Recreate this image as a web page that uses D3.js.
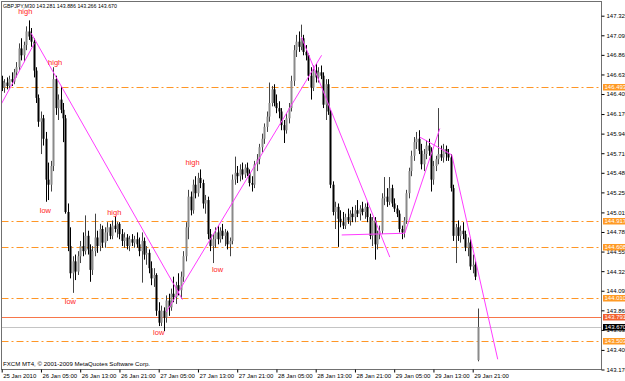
<!DOCTYPE html>
<html>
<head>
<meta charset="utf-8">
<script src="https://cdn.jsdelivr.net/npm/d3@7"></script>
<style>
  html, body { margin: 0; padding: 0; background: #fff; }
  svg { display: block; }
</style>
</head>
<body>
<svg></svg>
<script>
// GBPJPY M30 bars, 25 Jan 21:00 -> 29 Jan 22:00 (index 0..194)
const open = [
  146.56, 146.48, 146.54, 146.50, 146.58, 146.55, 146.66, 146.72, 146.94, 146.86,
  146.98, 147.14, 147.08, 147.02, 146.68, 146.36, 146.08, 146.12, 145.88, 145.40,
  145.34, 145.56, 146.58, 146.24, 146.34, 146.22, 146.12, 145.02, 144.62, 144.30,
  144.44, 144.32, 144.50, 144.62, 144.56, 144.74, 144.58, 144.34, 144.56, 144.72,
  144.62, 144.82, 144.66, 144.78, 144.84, 144.74, 144.86, 144.82, 144.88, 144.76,
  144.68, 144.72, 144.62, 144.70, 144.66, 144.70, 144.64, 144.56, 144.68, 144.52,
  144.54, 144.36, 144.24, 144.28, 143.86, 143.72, 143.86, 143.78, 143.98, 143.90,
  144.06, 144.02, 144.16, 144.10, 144.26, 144.50, 144.84, 145.20, 145.04, 145.34,
  145.24, 145.42, 145.36, 145.12, 145.16, 144.76, 144.62, 144.70, 144.78, 144.70,
  144.80, 144.74, 144.78, 144.64, 144.68, 145.40, 145.48, 145.44, 145.52, 145.46,
  145.54, 145.48, 145.36, 145.34, 145.58, 145.64, 145.78, 145.88, 146.02, 146.14,
  146.30, 146.46, 146.30, 146.24, 146.20, 146.04, 145.98, 146.12, 146.24, 146.56,
  146.92, 147.02, 146.96, 147.06, 146.90, 146.86, 146.62, 146.48, 146.68, 146.60,
  146.66, 146.62, 146.28, 146.52, 146.20, 145.34, 145.02, 145.08, 144.94, 144.90,
  144.86, 144.96, 144.92, 145.00, 144.96, 145.04, 145.00, 145.06, 145.02, 145.08,
  144.96, 144.74, 144.92, 144.64, 144.76, 144.80, 145.18, 145.20, 145.14, 145.30,
  145.12, 145.06, 145.00, 144.82, 144.78, 144.92, 145.24, 145.50, 145.68, 145.84,
  145.88, 145.74, 145.58, 145.70, 145.80, 145.74, 145.40, 145.56, 145.64, 145.70,
  145.66, 145.76, 145.70, 145.66, 145.30, 144.74, 144.84, 144.74, 144.80, 144.76,
  144.60, 144.66, 144.38, 144.40, 143.281
];
const high = [
  146.62, 146.58, 146.60, 146.62, 146.66, 146.70, 146.78, 147.00, 147.06, 147.02,
  147.20, 147.27, 147.18, 147.06, 146.72, 146.40, 146.20, 146.16, 145.96, 145.60,
  145.62, 146.72, 146.62, 146.40, 146.50, 146.30, 146.16, 145.12, 144.84, 144.50,
  144.52, 144.56, 144.68, 144.78, 144.98, 144.80, 144.64, 144.62, 145.00, 144.80,
  144.88, 144.86, 144.84, 144.90, 144.88, 144.92, 144.97, 144.90, 144.90, 144.82,
  144.78, 144.76, 144.74, 144.76, 144.74, 144.78, 144.72, 144.78, 144.72, 144.62,
  144.58, 144.44, 144.36, 144.30, 143.96, 143.92, 143.90, 144.04, 144.06, 144.12,
  144.26, 144.20, 144.30, 144.32, 144.56, 144.90, 145.28, 145.26, 145.40, 145.44,
  145.48, 145.52, 145.40, 145.22, 145.20, 144.82, 144.76, 144.84, 144.86, 144.84,
  144.88, 144.82, 144.80, 144.72, 145.46, 145.67, 145.56, 145.58, 145.60, 145.58,
  145.60, 145.52, 145.44, 145.62, 145.70, 145.82, 145.94, 146.06, 146.20, 146.54,
  146.50, 146.52, 146.40, 146.32, 146.24, 146.10, 146.18, 146.30, 146.62, 146.98,
  147.10, 147.14, 147.22, 147.10, 146.98, 146.88, 146.72, 146.74, 146.76, 146.72,
  146.74, 146.66, 146.58, 146.58, 146.22, 145.38, 145.14, 145.12, 145.04, 145.02,
  145.00, 145.06, 145.04, 145.08, 145.10, 145.16, 145.10, 145.14, 145.12, 145.14,
  145.00, 144.96, 144.96, 144.80, 144.86, 145.24, 145.43, 145.30, 145.43, 145.34,
  145.18, 145.10, 145.04, 144.86, 144.96, 145.28, 145.54, 145.74, 145.90, 145.96,
  145.98, 145.82, 145.76, 145.86, 145.88, 145.78, 145.62, 145.68, 146.24, 145.80,
  145.82, 145.80, 145.76, 145.70, 145.34, 144.88, 144.92, 144.86, 144.90, 144.80,
  144.72, 144.70, 144.52, 144.44, 143.886
];
const low = [
  146.44, 146.42, 146.46, 146.47, 146.50, 146.52, 146.60, 146.68, 146.80, 146.78,
  146.92, 147.04, 146.96, 146.60, 146.30, 146.02, 145.70, 145.80, 145.14, 145.16,
  145.26, 145.50, 146.16, 146.10, 146.18, 145.84, 145.00, 144.56, 144.24, 144.07,
  144.22, 144.28, 144.42, 144.50, 144.52, 144.52, 144.20, 144.28, 144.50, 144.54,
  144.56, 144.60, 144.60, 144.68, 144.70, 144.70, 144.78, 144.72, 144.70, 144.62,
  144.60, 144.58, 144.56, 144.62, 144.60, 144.60, 144.50, 144.19, 144.46, 144.40,
  144.30, 144.16, 144.14, 143.80, 143.68, 143.68, 143.62, 143.72, 143.80, 143.86,
  143.96, 143.94, 144.04, 144.00, 144.20, 144.44, 144.70, 144.98, 145.00, 145.18,
  145.20, 145.30, 145.06, 145.00, 144.70, 144.56, 144.42, 144.60, 144.64, 144.66,
  144.70, 144.62, 144.58, 144.50, 144.64, 145.34, 145.36, 145.38, 145.40, 145.42,
  145.44, 145.32, 145.26, 145.30, 145.50, 145.58, 145.72, 145.82, 145.96, 146.08,
  146.26, 146.26, 146.18, 146.12, 145.98, 145.83, 145.94, 146.06, 146.20, 146.50,
  146.84, 146.90, 146.92, 146.86, 146.80, 146.56, 146.34, 146.44, 146.54, 146.54,
  146.58, 146.24, 146.10, 146.16, 145.30, 144.98, 144.82, 144.61, 144.84, 144.82,
  144.82, 144.88, 144.86, 144.90, 144.90, 144.96, 144.92, 144.98, 144.94, 144.90,
  144.70, 144.62, 144.46, 144.58, 144.70, 144.76, 145.10, 145.08, 145.10, 145.08,
  145.02, 144.96, 144.78, 144.70, 144.72, 144.88, 145.18, 145.44, 145.62, 145.76,
  145.70, 145.52, 145.50, 145.64, 145.68, 145.26, 145.34, 145.50, 145.58, 145.62,
  145.60, 145.62, 145.62, 145.26, 144.68, 144.42, 144.68, 144.66, 144.70, 144.56,
  144.50, 144.34, 144.30, 144.22, 143.266
];
const close = [
  146.48, 146.54, 146.50, 146.58, 146.55, 146.66, 146.72, 146.94, 146.86, 146.98,
  147.14, 147.08, 147.02, 146.68, 146.36, 146.08, 146.12, 145.88, 145.40, 145.34,
  145.56, 146.58, 146.24, 146.34, 146.22, 146.12, 145.02, 144.62, 144.30, 144.44,
  144.32, 144.50, 144.62, 144.56, 144.74, 144.58, 144.34, 144.56, 144.72, 144.62,
  144.82, 144.66, 144.78, 144.84, 144.74, 144.86, 144.82, 144.88, 144.76, 144.68,
  144.72, 144.62, 144.70, 144.66, 144.70, 144.64, 144.56, 144.68, 144.52, 144.54,
  144.36, 144.24, 144.28, 143.86, 143.72, 143.86, 143.78, 143.98, 143.90, 144.06,
  144.02, 144.16, 144.10, 144.26, 144.50, 144.84, 145.20, 145.04, 145.34, 145.24,
  145.42, 145.36, 145.12, 145.16, 144.76, 144.62, 144.70, 144.78, 144.70, 144.80,
  144.74, 144.78, 144.64, 144.68, 145.40, 145.48, 145.44, 145.52, 145.46, 145.54,
  145.48, 145.36, 145.34, 145.58, 145.64, 145.78, 145.88, 146.02, 146.14, 146.30,
  146.46, 146.30, 146.24, 146.20, 146.04, 145.98, 146.12, 146.24, 146.56, 146.92,
  147.02, 146.96, 147.06, 146.90, 146.86, 146.62, 146.48, 146.68, 146.60, 146.66,
  146.62, 146.28, 146.52, 146.20, 145.34, 145.02, 145.08, 144.94, 144.90, 144.86,
  144.96, 144.92, 145.00, 144.96, 145.04, 145.00, 145.06, 145.02, 145.08, 144.96,
  144.74, 144.92, 144.64, 144.76, 144.80, 145.18, 145.20, 145.14, 145.30, 145.12,
  145.06, 145.00, 144.82, 144.78, 144.92, 145.24, 145.50, 145.68, 145.84, 145.88,
  145.74, 145.58, 145.70, 145.80, 145.74, 145.40, 145.56, 145.64, 145.70, 145.66,
  145.76, 145.70, 145.66, 145.30, 144.74, 144.84, 144.74, 144.80, 144.76, 144.60,
  144.66, 144.38, 144.40, 144.26, 143.670
];

// price scale labels
const priceTicks = [
  147.325, 147.095, 146.865, 146.635, 146.405, 146.170, 145.940, 145.710, 145.480,
  145.250, 145.015, 144.785, 144.555, 144.325, 144.095, 143.865, 143.635, 143.400, 143.170
];
// time scale labels, one every 16 bars
const timeTickBars = [0, 16, 32, 48, 64, 80, 96, 112, 128, 144, 160, 176, 192];
const timeLabels = [
  '25 Jan 2010', '26 Jan 05:00', '26 Jan 13:00', '26 Jan 21:00', '27 Jan 05:00',
  '27 Jan 13:00', '27 Jan 21:00', '28 Jan 05:00', '28 Jan 13:00', '28 Jan 21:00',
  '29 Jan 05:00', '29 Jan 13:00', '29 Jan 21:00'
];

// horizontal levels
const dashLevels = [146.493, 144.917, 144.608, 144.010, 143.503];
const redLevel = 143.791;
const bidLevel = 143.670;

// magenta trend lines: [bar1, price1, bar2, price2]
const trendLines = [
  [-0.3, 146.28, 13.3, 147.0],
  [12.0, 147.12, 73.7, 143.99],
  [67.1, 143.845, 130.4, 146.86],
  [122.2, 147.075, 158.2, 144.49],
  [138.6, 144.75, 164.3, 144.77],
  [164.3, 144.77, 178.6, 146.0],
  [170.4, 145.9, 183.5, 145.69],
  [183.5, 145.69, 202.2, 143.29]
];

// red high / low marks
const markText = ['high', 'high', 'low', 'high', 'low', 'high', 'low', 'low'];
const markBar = [9.6, 21.8, 17.8, 45.9, 28.0, 77.8, 88.0, 64.0];
const markPrice = [147.34, 146.746, 145.006, 144.99, 143.94, 145.57, 144.31, 143.57];

const W = 625, H = 381;
const L = 1.5, T = 1.5, R = 601.5, B = 369.5;

var svg = d3.select('svg').attr('width', W).attr('height', H)
  .style('font-family', '"Liberation Sans", Arial, sans-serif');

var x = d3.scaleLinear().domain([0, 192]).range([1.7, 472.7]);
var y = d3.scaleLinear().domain([143.170, 147.325]).range([369.5, 15.7]);

svg.append('defs').append('clipPath').attr('id', 'plot')
  .append('rect').attr('x', L).attr('y', T).attr('width', R - L).attr('height', B - T);

const g = svg.append('g').attr('clip-path', 'url(#plot)');

// level lines (orange dash-dot)
g.selectAll('line.dash')
  .data(dashLevels)
  .enter()
  .append('line')
  .attr('class', 'dash')
  .attr('x1', L).attr('x2', R)
  .attr('y1', (d) => Math.round(y(d)) + 0.5)
  .attr('y2', (d) => Math.round(y(d)) + 0.5)
  .attr('stroke', '#ff9626')
  .attr('stroke-width', 1)
  .attr('stroke-dasharray', '7,3,2,3');

g.append('line')
  .attr('x1', L).attr('x2', R)
  .attr('y1', Math.round(y(redLevel)) + 0.5).attr('y2', Math.round(y(redLevel)) + 0.5)
  .attr('stroke', '#f7764a');

g.append('line')
  .attr('x1', L).attr('x2', R)
  .attr('y1', Math.round(y(bidLevel)) + 0.5).attr('y2', Math.round(y(bidLevel)) + 0.5)
  .attr('stroke', '#c4c4c4');

// candles
const idx = d3.range(close.length);

g.selectAll('line.wick')
  .data(idx)
  .enter()
  .append('line')
  .attr('class', 'wick')
  .attr('x1', (i) => Math.round(x(i)) + 0.5)
  .attr('x2', (i) => Math.round(x(i)) + 0.5)
  .attr('y1', (i) => y(high[i]))
  .attr('y2', (i) => y(low[i]))
  .attr('stroke', (i) => (close[i] >= open[i] ? '#444' : '#000'))
  .attr('stroke-width', 1);

g.selectAll('rect.body')
  .data(idx)
  .enter()
  .append('rect')
  .attr('class', 'body')
  .attr('x', (i) => Math.round(x(i)) - 0.5)
  .attr('width', 2)
  .attr('y', (i) => y(Math.max(open[i], close[i])))
  .attr('height', (i) => Math.max(1, Math.abs(y(open[i]) - y(close[i]))))
  .attr('fill', (i) => (close[i] >= open[i] ? '#8a8a8a' : '#000'));

// trend lines
g.selectAll('line.trend')
  .data(trendLines)
  .enter()
  .append('line')
  .attr('class', 'trend')
  .attr('x1', (d) => x(d[0]))
  .attr('y1', (d) => y(d[1]))
  .attr('x2', (d) => x(d[2]))
  .attr('y2', (d) => y(d[3]))
  .attr('stroke', '#ff3cff')
  .attr('stroke-width', 1);

// high / low text
g.selectAll('text.mark')
  .data(markText)
  .enter()
  .append('text')
  .attr('class', 'mark')
  .attr('x', (d, i) => x(markBar[i]))
  .attr('y', (d, i) => y(markPrice[i]))
  .attr('text-anchor', 'middle')
  .attr('font-size', '7.5px')
  .attr('fill', '#ff2424')
  .text((d) => d);

// frame
svg.append('rect')
  .attr('x', L).attr('y', T).attr('width', R - L).attr('height', B - T)
  .attr('fill', 'none')
  .attr('stroke', '#707070');

// price axis
const yAxis = svg.append('g')
  .attr('transform', `translate(${R},0)`)
  .call(d3.axisRight(y).tickValues(priceTicks).tickSize(3).tickFormat(d3.format('.3f')));
yAxis.select('.domain').remove();
yAxis.selectAll('line').attr('stroke', '#000');
yAxis.selectAll('text')
  .attr('x', 5)
  .attr('font-size', '6px')
  .attr('font-family', '"Liberation Sans", Arial, sans-serif')
  .attr('fill', '#000');

// time axis
const xAxis = svg.append('g')
  .attr('transform', `translate(0,${B})`)
  .call(d3.axisBottom(x).tickValues(timeTickBars).tickSize(3).tickFormat((d, i) => timeLabels[i]));
xAxis.select('.domain').remove();
xAxis.selectAll('line').attr('stroke', '#000');
xAxis.selectAll('text')
  .attr('text-anchor', 'start')
  .attr('x', 1)
  .attr('y', 4)
  .attr('font-size', '6px')
  .attr('font-family', '"Liberation Sans", Arial, sans-serif')
  .attr('fill', '#000');

// price tags on the scale
function tag(p, bg) {
  const yy = Math.round(y(p));
  svg.append('rect')
    .attr('x', 603).attr('y', yy - 3).attr('width', 22).attr('height', 6.5)
    .attr('fill', bg);
  svg.append('text')
    .attr('x', 604.5).attr('y', yy + 2.4)
    .attr('font-size', '6px')
    .attr('fill', '#fff')
    .text(d3.format('.3f')(p));
}
dashLevels.forEach((p) => tag(p, '#ff9a24'));
tag(redLevel, '#f2602e');
tag(bidLevel, '#000');

// header + copyright
svg.append('text')
  .attr('x', 3).attr('y', 8)
  .attr('font-size', '6px')
  .attr('textLength', 114)
  .attr('lengthAdjust', 'spacingAndGlyphs')
  .text('GBPJPY,M30  143.281 143.886 143.266 143.670');

svg.append('text')
  .attr('x', 3).attr('y', 366)
  .attr('font-size', '6px')
  .attr('textLength', 147)
  .attr('lengthAdjust', 'spacingAndGlyphs')
  .text('FXCM MT4, © 2001-2009 MetaQuotes Software Corp.');
</script>
</body>
</html>
